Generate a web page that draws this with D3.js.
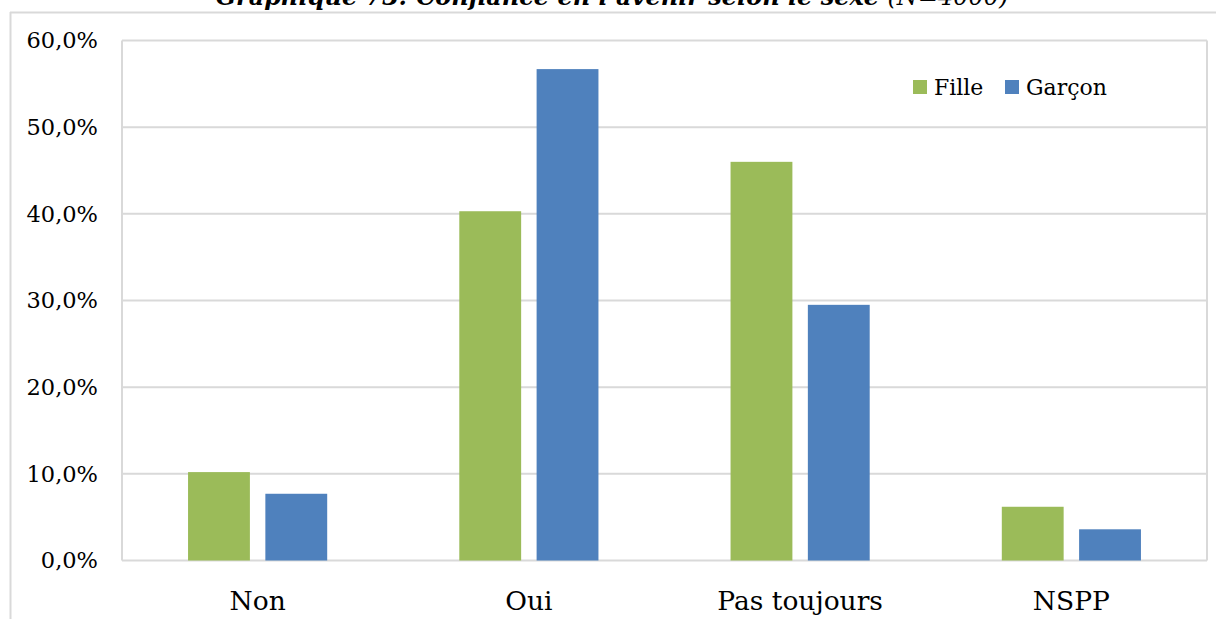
<!DOCTYPE html>
<html>
<head>
<meta charset="utf-8">
<script src="https://cdn.jsdelivr.net/npm/d3@7"></script>
<style>
  body { margin: 0; background: #fff; }
  text { font-family: "DejaVu Serif", serif; fill: #000; }
</style>
</head>
<body>
<div id="chart"></div>
<script>
// data
var categories = ["Non", "Oui", "Pas toujours", "NSPP"];
var series = ["Fille", "Garçon"];
var fille = [10.2, 40.3, 46.0, 6.2];
var garcon = [7.7, 56.7, 29.5, 3.6];
var yTicks = [0, 10, 20, 30, 40, 50, 60];
var colors = ["#9bbb59", "#4f81bd"];

var W = 1216, H = 619;
var margin = { top: 40.5, right: 9, bottom: 58.5, left: 122 },
  width = W - margin.left - margin.right,
  height = H - margin.top - margin.bottom;

var svg = d3.select("#chart").append("svg")
  .attr("width", W)
  .attr("height", H);

// outer frame (title area cut off at the top)
svg.append("line")
  .attr("x1", 10).attr("x2", W).attr("y1", 12.5).attr("y2", 12.5)
  .style("stroke", "#d9d9d9").style("stroke-width", 2);
svg.append("line")
  .attr("x1", 10.5).attr("x2", 10.5).attr("y1", 12).attr("y2", H)
  .style("stroke", "#d9d9d9").style("stroke-width", 2);

// title, mostly outside the picture
var title = svg.append("text")
  .attr("x", 612)
  .attr("y", 5)
  .attr("text-anchor", "middle")
  .style("font-size", "24px")
  .style("font-style", "italic");
title.append("tspan").style("font-weight", "bold")
  .text("Graphique 73: Confiance en l’avenir selon le sexe ");
title.append("tspan").text("(N=4000)");

var g = svg.append("g")
  .attr("transform", "translate(" + margin.left + "," + margin.top + ")");

var y = d3.scaleLinear().domain([0, 60]).range([height, 0]);
var x = d3.scaleBand().domain(categories).range([0, width]);
var x1 = d3.scaleBand().domain(series)
  .range([0, x.bandwidth() * 0.513])
  .paddingInner(0.2);

// gridlines
g.selectAll(".grid")
  .data(yTicks)
  .enter()
  .append("line")
  .attr("x1", 0).attr("x2", width)
  .attr("y1", function (d) { return y(d); })
  .attr("y2", function (d) { return y(d); })
  .style("stroke", "#d9d9d9")
  .style("stroke-width", 2);

// plot area sides
g.append("line").attr("x1", 0).attr("x2", 0).attr("y1", 0).attr("y2", height)
  .style("stroke", "#d9d9d9").style("stroke-width", 2);
g.append("line").attr("x1", width).attr("x2", width).attr("y1", 0).attr("y2", height)
  .style("stroke", "#d9d9d9").style("stroke-width", 2);

// y labels
g.selectAll(".ylab")
  .data(yTicks)
  .enter()
  .append("text")
  .attr("x", -24)
  .attr("y", function (d) { return y(d); })
  .attr("dy", "0.35em")
  .attr("text-anchor", "end")
  .style("font-size", "22.5px")
  .text(function (d) { return d.toFixed(1).replace(".", ",") + "%"; });

// bars
var data = categories.map(function (c, i) {
  return { cat: c, values: [fille[i], garcon[i]] };
});
var groupOffset = (x.bandwidth() - x1.range()[1]) / 2;

var groups = g.selectAll(".grp")
  .data(data)
  .enter()
  .append("g")
  .attr("transform", function (d) {
    return "translate(" + (x(d.cat) + groupOffset) + ",0)";
  });

groups.selectAll("rect")
  .data(function (d) {
    return d.values.map(function (v, j) { return { s: series[j], v: v, j: j }; });
  })
  .enter()
  .append("rect")
  .attr("x", function (d) { return x1(d.s); })
  .attr("y", function (d) { return y(d.v); })
  .attr("width", x1.bandwidth())
  .attr("height", function (d) { return height - y(d.v); })
  .style("fill", function (d) { return colors[d.j]; });

// category labels
g.selectAll(".xlab")
  .data(categories)
  .enter()
  .append("text")
  .attr("x", function (d) { return x(d) + x.bandwidth() / 2; })
  .attr("y", height + 49)
  .attr("text-anchor", "middle")
  .style("font-size", "26.5px")
  .text(function (d) { return d; });

// legend
var legend = svg.append("g").attr("transform", "translate(913,80)");
var lx = [0, 92];
series.forEach(function (s, i) {
  legend.append("rect")
    .attr("x", lx[i]).attr("y", 0)
    .attr("width", 14).attr("height", 14)
    .style("fill", colors[i]);
  legend.append("text")
    .attr("x", lx[i] + 21).attr("y", 7)
    .attr("dy", "0.35em")
    .style("font-size", "22px")
    .text(s);
});
</script>
</body>
</html>
